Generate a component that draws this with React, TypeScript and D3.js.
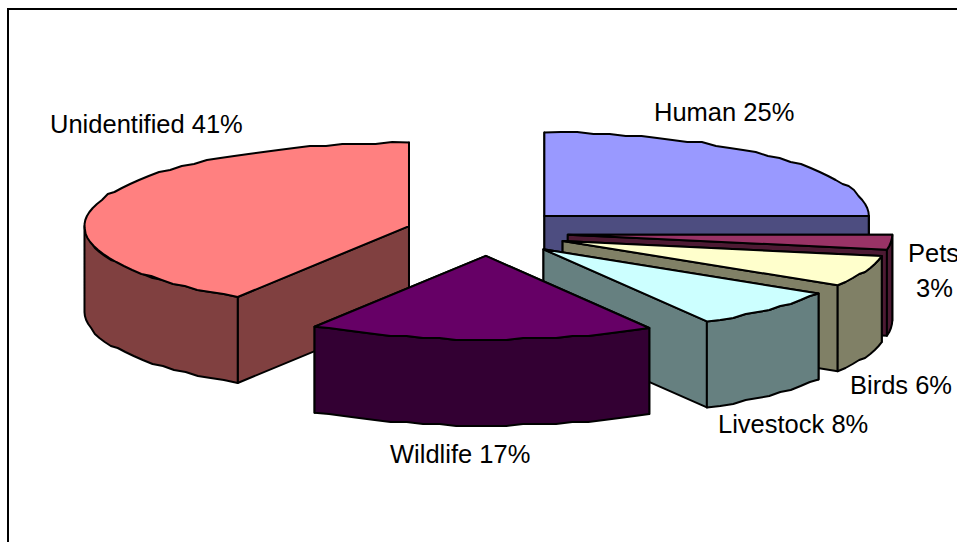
import React from "react";
import * as d3 from "d3";

const categories = ["Human", "Pets", "Birds", "Livestock", "Wildlife", "Unidentified"];
const shares = [25, 2.9, 6, 7.7, 17.25, 41.15];
const topColors = ["#9999FF", "#993366", "#FFFFCC", "#CCFFFF", "#660066", "#FF8080"];
const sideColors = ["#4D4D80", "#4D1A33", "#808066", "#668080", "#330033", "#804040"];
const paintOrder = [0, 5, 1, 2, 3, 4];
const labelLines = [
  ["Human 25%"],
  ["Pets", "3%"],
  ["Birds 6%"],
  ["Livestock 8%"],
  ["Wildlife 17%"],
  ["Unidentified 41%"],
];

const W = 957, H = 542;
const CX = 487, CY = 232.5, RX = 324.5, RY = 83.5, DEPTH = 86, EXPLODE_X = 0.25, EXPLODE_Y = 0.28;
const labelAnchors: [number, number][][] = [
  [[654, 121]],
  [[908, 262], [916, 297]],
  [[850, 394]],
  [[718, 433]],
  [[390, 463]],
  [[50, 133]],
];

const xUnit = d3.scaleLinear().domain([-1, 1]).range([-RX, RX]);
const yUnit = d3.scaleLinear().domain([-1, 1]).range([-RY, RY]);
const STEP = (3 * Math.PI) / 180;

type P = [number, number];
const line = d3.line<P>().x(d => d[0]).y(d => d[1]);
const closed = (pts: P[]) => (line(pts) || "") + "Z";

function arcPoints(cx: number, cy: number, a0: number, a1: number): P[] {
  const n = Math.max(2, Math.ceil((a1 - a0) / STEP));
  return d3.range(n + 1).map(i => {
    const a = a0 + ((a1 - a0) * i) / n;
    const x = cx + xUnit(Math.sin(a));
    const y = cy + yUnit(-Math.cos(a));
    const edge = i === 0 || i === n;
    return [x, edge ? y : Math.round(y / 2) * 2] as P;
  });
}

const arcs = d3.pie<number>().sort(null).startAngle(0).endAngle(2 * Math.PI)(shares);

function Slice({ i }: { i: number }) {
  const { startAngle: a0, endAngle: a1 } = arcs[i];
  const mid = (a0 + a1) / 2;
  const cx = CX + EXPLODE_X * xUnit(Math.sin(mid));
  const cy = CY + EXPLODE_Y * yUnit(-Math.cos(mid));
  const rim = arcPoints(cx, cy, a0, a1);
  const first = rim[0];
  const last = rim[rim.length - 1];
  const down = (p: P): P => [p[0], p[1] + DEPTH];
  const apex: P = [cx, cy];
  const stroke = { stroke: "#000", strokeWidth: 2, strokeLinejoin: "round" as const };
  const lo = Math.max(a0, Math.PI / 2);
  const hi = Math.min(a1, (3 * Math.PI) / 2);
  const front = hi > lo ? arcPoints(cx, cy, lo, hi) : [];
  return (
    <g>
      <path d={closed([apex, first, down(first), down(apex)])} fill={sideColors[i]} {...stroke} />
      <path d={closed([apex, last, down(last), down(apex)])} fill={sideColors[i]} {...stroke} />
      {front.length > 0 && (
        <path d={closed([...front, ...front.slice().reverse().map(down)])} fill={sideColors[i]} {...stroke} />
      )}
      <path d={closed([apex, ...rim])} fill={topColors[i]} {...stroke} />
    </g>
  );
}

export default function App() {
  return (
    <svg width={W} height={H} style={{ position: "absolute", left: 0, top: 0, background: "#fff" }}>
      <rect x={8} y={9} width={W + 20} height={H + 20} fill="#fff" stroke="#000" strokeWidth={2} />
      {paintOrder.map(i => <Slice key={categories[i]} i={i} />)}
      {labelLines.map((lines, i) =>
        lines.map((t, j) => (
          <text key={t} x={labelAnchors[i][j][0]} y={labelAnchors[i][j][1]}
            fontFamily="'Liberation Sans', Arial, sans-serif" fontSize={25.5} fill="#000">{t}</text>
        ))
      )}
    </svg>
  );
}
